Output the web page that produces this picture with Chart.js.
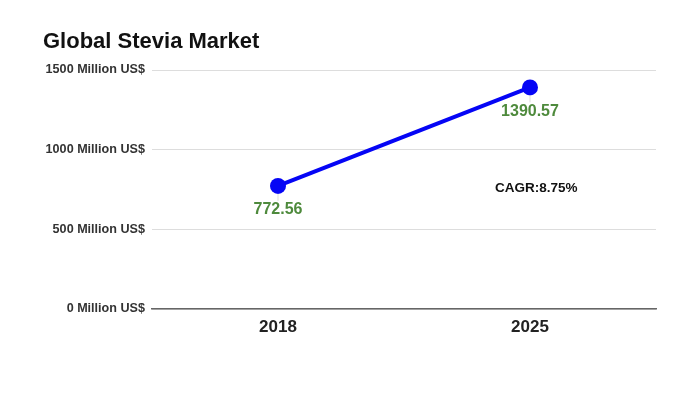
<!DOCTYPE html>
<html><head><meta charset="utf-8">
<script src="https://cdn.jsdelivr.net/npm/chart.js@4/dist/chart.umd.min.js"></script>
<style>html,body{margin:0;padding:0;background:#fff}#wrap{width:700px;height:394px}</style>
</head><body><div id="wrap"><canvas id="c" width="700" height="394"></canvas></div>
<script>
const title = "Global Stevia Market";
const categories = ["2018", "2025"];
const marketValues = [772.56, 1390.57];
const valueLabels = ["772.56", "1390.57"];
const yTicks = [0, 500, 1000, 1500];
const tickSuffix = " Million US$";
const cagrText = "CAGR:8.75%";

const FONT = "'Liberation Sans', Arial, sans-serif";

const overlay = {
  id: 'overlay',
  afterDatasetsDraw(chart) {
    const ctx = chart.ctx;
    const meta = chart.getDatasetMeta(0);
    ctx.save();
    // title
    ctx.fillStyle = '#111';
    ctx.font = 'bold 22px ' + FONT;
    ctx.textAlign = 'left';
    ctx.textBaseline = 'alphabetic';
    ctx.fillText(title, 43, 48);
    // data labels
    ctx.font = 'bold 16px ' + FONT;
    ctx.textAlign = 'center';
    ctx.textBaseline = 'middle';
    meta.data.forEach((pt, i) => {
      ctx.strokeStyle = '#dddddd';
      ctx.lineWidth = 1;
      ctx.beginPath();
      ctx.moveTo(pt.x, pt.y + 8);
      ctx.lineTo(pt.x, pt.y + 15);
      ctx.stroke();
      ctx.fillStyle = '#4e8a3c';
      ctx.fillText(valueLabels[i], pt.x, pt.y + 24);
    });
    // CAGR annotation
    const xs = chart.scales.x, ys = chart.scales.y;
    ctx.fillStyle = '#111';
    ctx.font = 'bold 13.5px ' + FONT;
    ctx.textAlign = 'left';
    ctx.fillText(cagrText, xs.getPixelForValue(1) - 35, ys.getPixelForValue(760));
    ctx.restore();
  }
};

new Chart(document.getElementById('c'), {
  type: 'line',
  data: {
    labels: categories,
    datasets: [{
      data: marketValues,
      borderColor: '#0505f5',
      backgroundColor: '#0505f5',
      borderWidth: 4,
      pointRadius: 8,
      pointHoverRadius: 8,
      pointBackgroundColor: '#0505f5',
      pointBorderWidth: 0,
      tension: 0,
      clip: false
    }]
  },
  options: {
    responsive: false,
    animation: false,
    devicePixelRatio: 1,
    layout: { padding: { left: 0, right: 44, top: 70, bottom: 0 } },
    plugins: { legend: { display: false }, title: { display: false }, tooltip: { enabled: false } },
    scales: {
      x: {
        offset: true,
        grid: { display: false, drawTicks: false },
        border: { display: true, color: '#666', width: 1.5 },
        ticks: { color: '#222', font: { family: FONT, weight: 'bold', size: 17 }, padding: 8 },
        afterFit(s) { s.height = 85; }
      },
      y: {
        min: 0, max: 1500,
        afterBuildTicks(s) { s.ticks = yTicks.map(v => ({ value: v })); },
        grid: { color: '#dddddd', lineWidth: 1, drawTicks: false },
        border: { display: false },
        ticks: {
          color: '#333', padding: 7,
          font: { family: FONT, weight: 'bold', size: 12.6 },
          callback: v => v + tickSuffix
        },
        afterFit(s) { s.width = 152; }
      }
    }
  },
  plugins: [overlay]
});
</script></body></html>
